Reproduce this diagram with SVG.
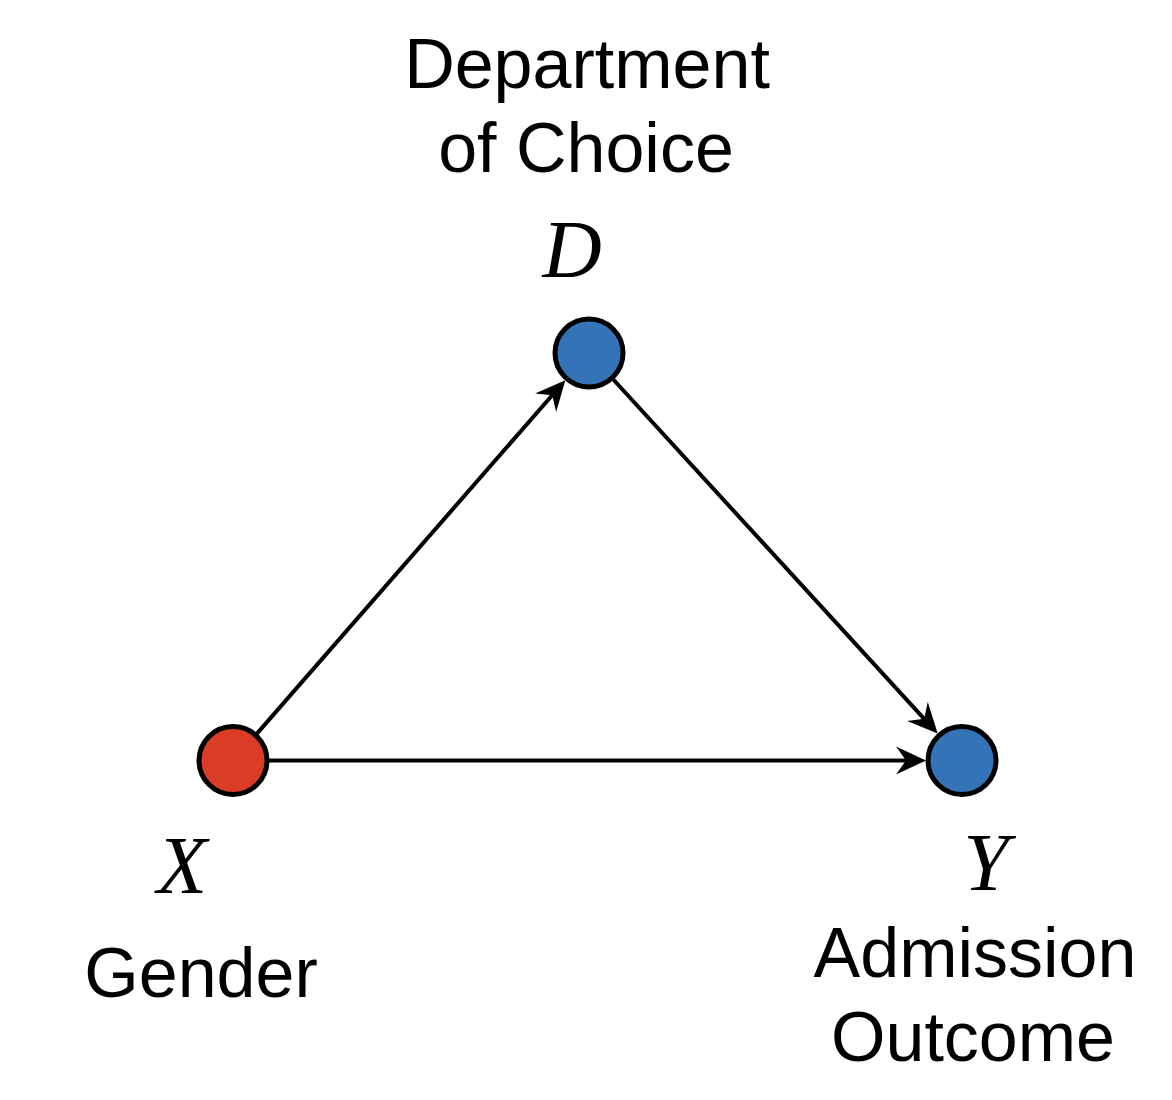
<svg xmlns="http://www.w3.org/2000/svg" width="1172" height="1100" viewBox="0 0 1172 1100">
<defs>
<style>
.lbl{font-family:"Liberation Sans",Arial,sans-serif;font-size:70px;fill:#000;text-anchor:middle}
.var{font-family:"Liberation Serif","Times New Roman",serif;font-style:italic;font-size:82px;fill:#000;text-anchor:middle}
.node{stroke:#000;stroke-width:5}
.edge{stroke:#000;stroke-width:4;fill:none}
</style>
<marker id="arr" markerUnits="userSpaceOnUse" viewBox="-12 -16 34 32" refX="0" refY="0" markerWidth="34" markerHeight="32" orient="auto" overflow="visible">
<path d="M20,0 L-10,-14 L0,0 L-10,14 Z" fill="#000"/>
</marker>
</defs>
<rect width="1172" height="1100" fill="#fff"/>
<g id="connectors">
<line class="edge" x1="256.7" y1="733.9" x2="552.2" y2="395.2" marker-end="url(#arr)"/>
<line class="edge" x1="613.3" y1="379.5" x2="924.2" y2="718.8" marker-end="url(#arr)"/>
<line class="edge" x1="269" y1="760.5" x2="906" y2="760.5" marker-end="url(#arr)"/>
</g>
<g id="node-D">
<circle class="node" cx="589" cy="353" r="34" fill="#3473B7"/>
<text class="var" x="572" y="277">D</text>
<text class="lbl" x="587" y="88">Department</text>
<text class="lbl" x="586" y="172">of Choice</text>
</g>
<g id="node-X">
<circle class="node" cx="233" cy="760.5" r="34" fill="#DA3C26"/>
<text class="var" x="182" y="893">X</text>
<text class="lbl" x="201" y="997">Gender</text>
</g>
<g id="node-Y">
<circle class="node" cx="962" cy="760.5" r="34" fill="#3473B7"/>
<text class="var" x="986" y="890">Y</text>
<text class="lbl" x="975" y="977">Admission</text>
<text class="lbl" x="973" y="1061">Outcome</text>
</g>
</svg>
